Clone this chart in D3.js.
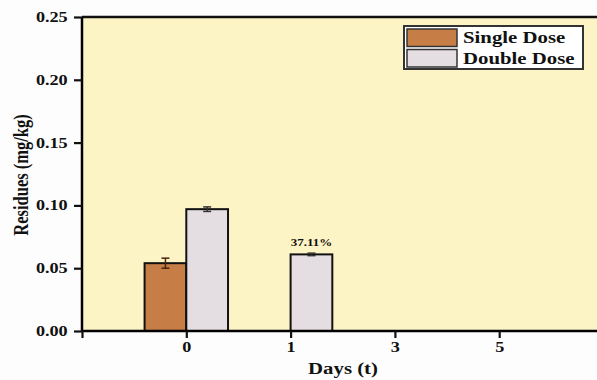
<!DOCTYPE html>
<html>
<head>
<meta charset="utf-8">
<script src="https://cdn.jsdelivr.net/npm/d3@7"></script>
<style>
  body { margin: 0; background: #fdfdfd; }
  svg { display: block; }
  text { font-family: "Liberation Serif", "Times New Roman", serif; font-weight: bold; fill: #111; }
</style>
</head>
<body>
<svg id="chart" width="597" height="380"></svg>
<script>
// days on the x axis (first slot is empty, at the y axis)
var days = ["0", "1", "3", "5", "7"];
var singleDose = [0.054, null, null, null, null];
var singleErr = [0.004, null, null, null, null];
var doubleDose = [0.097, 0.061, null, null, null];
var doubleErr = [0.0018, 0.001, null, null, null];
var pctLabels = [null, "37.11%", null, null, null];
var yTicks = [0.00, 0.05, 0.10, 0.15, 0.20, 0.25];
var seriesNames = ["Single Dose", "Double Dose"];

var colors = {"Single Dose": "#c67e46", "Double Dose": "#e4dde1"};
var errColors = {"Single Dose": "#4a2410", "Double Dose": "#333"};
var sx = 1.3; // the picture is stretched sideways

var svg = d3.select("#chart");
var plotLeft = 82, plotTop = 17, plotBottom = 331, plotRight = 597;
var step = 104.3;

var xScale = d3.scalePoint()
    .domain([""].concat(days))
    .range([plotLeft, plotLeft + step * days.length]);

var yScale = d3.scaleLinear()
    .domain([0, 0.25])
    .range([plotBottom, plotTop]);

// plot background
svg.append("rect")
    .attr("x", plotLeft).attr("y", plotTop)
    .attr("width", plotRight - plotLeft).attr("height", plotBottom - plotTop)
    .style("fill", "#fdf4c5");

// top frame line
svg.append("line")
    .attr("x1", plotLeft).attr("x2", plotRight)
    .attr("y1", plotTop).attr("y2", plotTop)
    .style("stroke", "#111").style("stroke-width", 2.5);

var bw = step * 0.4;
var rows = [];
days.forEach(function(d, i) {
    if (singleDose[i] != null) rows.push({day: d, s: "Single Dose", v: singleDose[i], e: singleErr[i], off: -bw});
    if (doubleDose[i] != null) rows.push({day: d, s: "Double Dose", v: doubleDose[i], e: doubleErr[i], off: 0});
});

svg.selectAll("rect.bar")
    .data(rows)
    .enter().append("rect")
    .attr("class", "bar")
    .attr("x", function(d) { return xScale(d.day) + d.off; })
    .attr("y", function(d) { return yScale(d.v); })
    .attr("width", bw)
    .attr("height", function(d) { return yScale(0) - yScale(d.v); })
    .style("fill", function(d) { return colors[d.s]; })
    .style("stroke", "#111")
    .style("stroke-width", 2);

// error bars
var eb = svg.selectAll("g.err")
    .data(rows)
    .enter().append("g")
    .attr("class", "err")
    .style("stroke", function(d) { return errColors[d.s]; })
    .style("stroke-width", 1.5);
eb.append("line")
    .attr("x1", function(d) { return xScale(d.day) + d.off + bw / 2; })
    .attr("x2", function(d) { return xScale(d.day) + d.off + bw / 2; })
    .attr("y1", function(d) { return yScale(d.v + d.e); })
    .attr("y2", function(d) { return yScale(d.v - d.e); });
[1, -1].forEach(function(sgn) {
    eb.append("line")
        .attr("x1", function(d) { return xScale(d.day) + d.off + bw / 2 - 4; })
        .attr("x2", function(d) { return xScale(d.day) + d.off + bw / 2 + 4; })
        .attr("y1", function(d) { return yScale(d.v + sgn * d.e); })
        .attr("y2", function(d) { return yScale(d.v + sgn * d.e); });
});

// percentage label above the bar
days.forEach(function(d, i) {
    if (!pctLabels[i]) return;
    svg.append("text")
        .attr("transform", "translate(" + (xScale(d) + bw / 2) + "," + (yScale(doubleDose[i] + doubleErr[i]) - 7) + ") scale(" + sx + ",1)")
        .style("text-anchor", "middle")
        .style("font-size", "10px")
        .text(pctLabels[i]);
});

// axes
var xAxis = d3.axisBottom(xScale).tickSize(7).tickPadding(4);
var yAxis = d3.axisLeft(yScale).tickValues(yTicks).tickFormat(d3.format(".2f")).tickSize(8).tickPadding(3);

var gx = svg.append("g")
    .attr("transform", "translate(0," + plotBottom + ")")
    .call(xAxis);
gx.select(".domain").attr("d", "M" + plotLeft + ",0H" + plotRight).style("stroke-width", 2.5);

var gy = svg.append("g")
    .attr("transform", "translate(" + plotLeft + ",0)")
    .call(yAxis);
gy.select(".domain").attr("d", "M0," + plotTop + "V" + plotBottom).style("stroke-width", 2.5);

[gx, gy].forEach(function(g) {
    g.attr("font-size", null).attr("font-family", null);
    g.selectAll(".tick line").style("stroke", "#111").style("stroke-width", 2.2);
    g.selectAll(".tick text")
        .style("font-size", "14px")
        .style("fill", "#111")
        .attr("transform", "scale(" + sx + ",1)");
});

// axis titles
svg.append("text")
    .attr("transform", "translate(343,374) scale(" + sx + ",1)")
    .style("text-anchor", "middle")
    .style("font-size", "16px")
    .text("Days (t)");

svg.append("text")
    .attr("transform", "translate(28,175) scale(" + sx + ",1) rotate(-90)")
    .style("text-anchor", "middle")
    .style("font-size", "16.5px")
    .text("Residues (mg/kg)");

// legend
var legend = svg.append("g").attr("transform", "translate(404,26)");
legend.append("rect")
    .attr("width", 179).attr("height", 43)
    .style("fill", "#fff").style("stroke", "#333").style("stroke-width", 2);
var li = legend.selectAll(".legend")
    .data(seriesNames)
    .enter().append("g")
    .attr("class", "legend")
    .attr("transform", function(d, i) { return "translate(3," + (3 + i * 20.5) + ")"; });
li.append("rect")
    .attr("width", 50).attr("height", 17.5)
    .style("fill", function(d) { return colors[d]; })
    .style("stroke", "#333").style("stroke-width", 1.5);
li.append("text")
    .attr("transform", "translate(56,14) scale(" + sx + ",1)")
    .style("font-size", "16px")
    .text(function(d) { return d; });
</script>
</body>
</html>
